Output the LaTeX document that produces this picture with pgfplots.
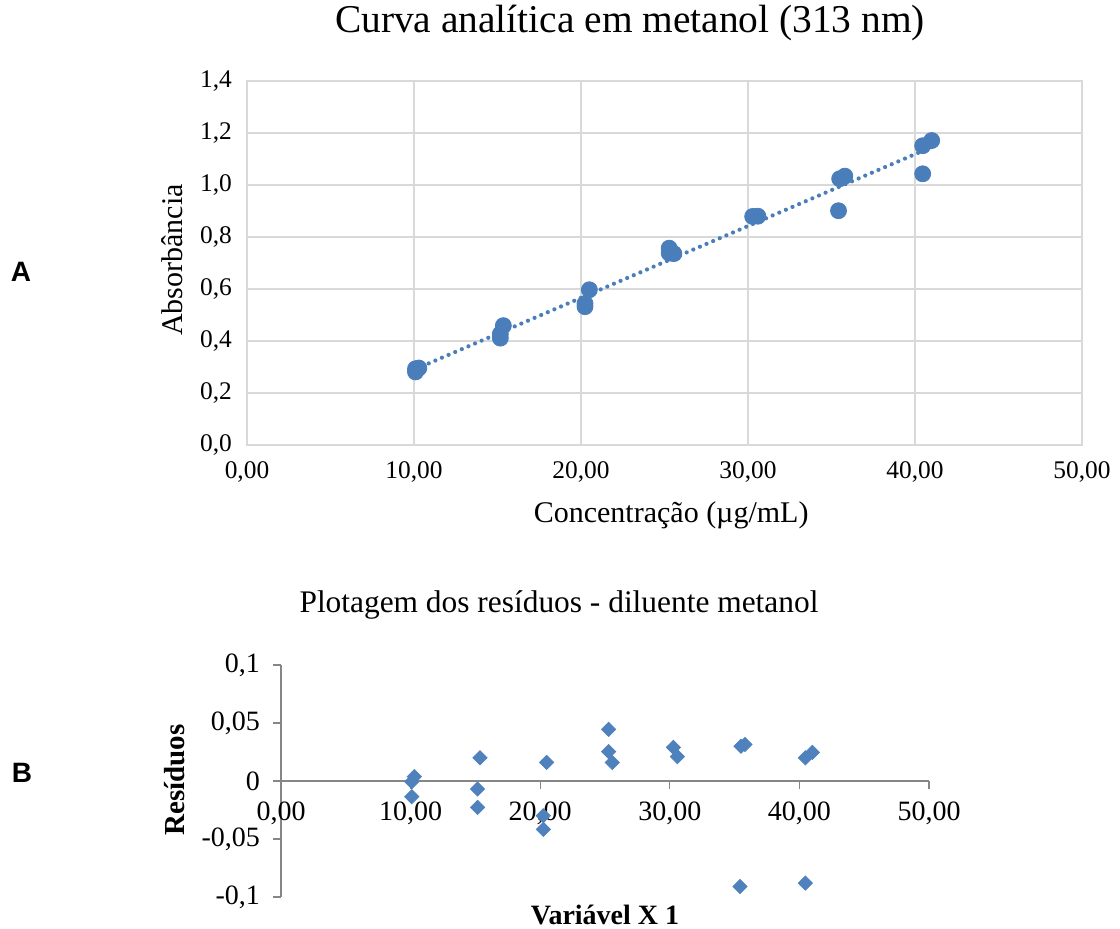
\documentclass[border=0pt]{standalone}
\usepackage{fontspec}
\setmainfont{Liberation Serif}
\newfontfamily\arialfont{Liberation Sans}
\usepackage{pgfplots}
\pgfplotsset{compat=1.18}
\definecolor{ptblue}{HTML}{4A7EBB}
\definecolor{resblue}{HTML}{4F81BD}
\definecolor{gridc}{HTML}{D9D9D9}
\definecolor{axisc}{HTML}{868686}
\begin{document}
\begin{tikzpicture}[x=1pt,y=1pt]
\useasboundingbox (0,0) rectangle (560,464.5);
% ---------------- Top chart ----------------
\begin{axis}[
  at={(123.5pt,242pt)}, anchor=south west,
  scale only axis, width=417.5pt, height=182pt,
  xmin=0, xmax=50, ymin=0, ymax=1.4,
  xtick={0,10,20,30,40,50},
  xticklabels={{0,00},{10,00},{20,00},{30,00},{40,00},{50,00}},
  ytick={0,0.2,0.4,0.6,0.8,1.0,1.2,1.4},
  yticklabels={{0,0},{0,2},{0,4},{0,6},{0,8},{1,0},{1,2},{1,4}},
  major tick length=0pt,
  grid=major,
  major grid style={draw=gridc, line width=0.75pt},
  axis line style={draw=gridc, line width=0.75pt},
  tick label style={font=\fontsize{12.7}{15}\selectfont},
  xticklabel style={yshift=-5pt},
  yticklabel style={xshift=-4pt},
  title={Curva analítica em metanol (313 nm)},
  title style={font=\fontsize{19.7}{23}\selectfont, at={(axis description cs:0.4587,1.126)}, anchor=center},
  xlabel={Concentração (µg/mL)},
  xlabel style={font=\fontsize{15}{18}\selectfont, at={(axis description cs:0.508,-0.192)}, anchor=center},
  ylabel={Absorbância},
  ylabel style={font=\fontsize{15}{18}\selectfont, at={(axis description cs:-0.0898,0.508)}, anchor=center},
  clip=false,
]
\addplot[ptblue, line width=2.1pt, dash pattern=on 0pt off 3.6pt, line cap=round] coordinates {(10.09,0.292) (41.0,1.146)};
\addplot[only marks, mark=*, mark size=4pt, mark options={draw=ptblue, fill=ptblue}] coordinates {
(10.09,0.293) (10.09,0.281) (10.29,0.296)
(15.17,0.427) (15.17,0.411) (15.35,0.459)
(20.24,0.544) (20.24,0.532) (20.50,0.597)
(25.28,0.757) (25.28,0.738) (25.56,0.736)
(30.28,0.879) (30.59,0.880)
(35.42,0.901) (35.49,1.024) (35.80,1.034)
(40.46,1.043) (40.46,1.151) (41.00,1.171)
};
\end{axis}
% ---------------- Bottom chart ----------------
\begin{axis}[
  at={(140.5pt,16pt)}, anchor=south west,
  scale only axis, width=324pt, height=116pt,
  xmin=0, xmax=50, ymin=-0.1, ymax=0.1,
  axis x line=middle, axis y line=left,
  axis line style={-, draw=axisc, line width=0.6pt},
  every inner x axis line/.append style={-},
  every outer y axis line/.append style={-},
  hide obscured x ticks=false, hide obscured y ticks=false,
  xtick={0,10,20,30,40,50},
  xticklabels={{0,00},{10,00},{20,00},{30,00},{40,00},{50,00}},
  ytick={-0.1,-0.05,0,0.05,0.1},
  yticklabels={{-0,1},{-0,05},{0},{0,05},{0,1}},
  tick align=outside, major tick length=4pt,
  tick style={draw=axisc, line width=0.6pt},
  tick label style={font=\fontsize{14}{16}\selectfont},
  xticklabel style={yshift=-3pt},
  yticklabel style={xshift=-3pt},
  title={Plotagem dos resíduos - diluente metanol},
  title style={font=\fontsize{15.7}{18}\selectfont, at={(axis description cs:0.429,1.207)}, anchor=center},
  xlabel={\textbf{Variável X 1}},
  xlabel style={font=\fontsize{14}{16}\selectfont, at={(axis description cs:0.5,-0.078)}, anchor=center},
  ylabel={\textbf{Resíduos}},
  ylabel style={font=\fontsize{14.5}{16}\selectfont, at={(axis description cs:-0.164,0.504)}, anchor=center},
  clip=false,
]
\addplot[only marks, mark=square*, mark size=2.5pt, mark options={draw=resblue, fill=resblue, rotate=45}] coordinates {
(10.09,-0.0006) (10.09,-0.0135) (10.29,0.0037)
(15.17,-0.0069) (15.17,-0.0227) (15.35,0.020)
(20.24,-0.030) (20.24,-0.0417) (20.50,0.016)
(25.28,0.0445) (25.28,0.0253) (25.56,0.016)
(30.28,0.029) (30.59,0.021)
(35.42,-0.091) (35.49,0.030) (35.80,0.0315)
(40.46,0.020) (40.46,-0.088) (41.00,0.0247)
};
\end{axis}
\node[font=\arialfont\bfseries\fontsize{14}{16}\selectfont] at (10.5,328.5) {A};
\node[font=\arialfont\bfseries\fontsize{14}{16}\selectfont] at (11,78) {B};
\end{tikzpicture}
\end{document}
